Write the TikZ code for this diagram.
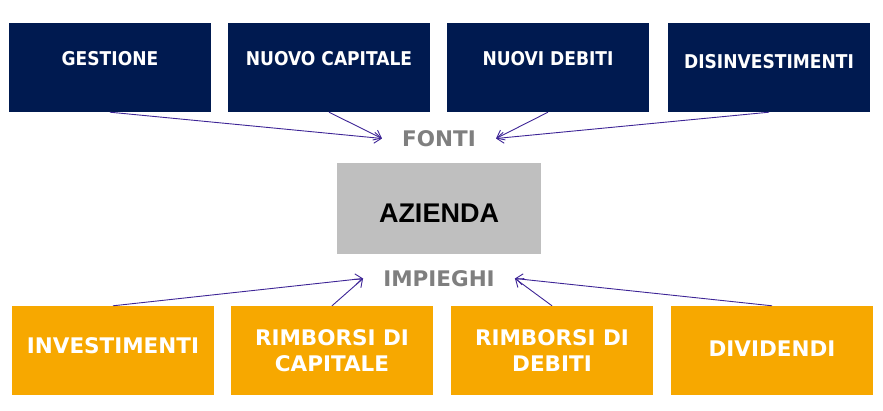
\documentclass[tikz,border=0pt]{standalone}
\usepackage{fontspec}
\setmainfont{Liberation Sans}
\newfontfamily\boxfont{DejaVu Sans Condensed Bold}
\newfontfamily\widefont{DejaVu Sans Bold}
\usetikzlibrary{arrows.meta}

\definecolor{navy}{HTML}{001A50}
\definecolor{gold}{HTML}{F7A800}
\definecolor{boxgray}{HTML}{BFBFBF}
\definecolor{labelgray}{HTML}{7F7F7F}
\definecolor{arrowblue}{HTML}{3E2596}

\begin{document}
\begin{tikzpicture}[x=1pt, y=-1pt,
  fonte/.style={fill=navy, text=white, minimum width=202pt, minimum height=89pt, inner sep=0pt,
    font=\boxfont\fontsize{19}{24}\selectfont},
  impiego/.style={fill=gold, text=white, minimum width=202pt, minimum height=89pt, inner sep=0pt,
    align=center, font=\widefont\fontsize{21.5}{26}\selectfont},
  titolo/.style={text=labelgray, inner xsep=20pt, inner ysep=2pt, font=\widefont\fontsize{21.5}{24}\selectfont},
  freccia/.style={arrowblue, line width=0.9pt, -{Straight Barb[length=7pt, width=11pt]}}]
\useasboundingbox (0,0) rectangle (883,411);

% fonti
\node[fonte, text height=14pt, text depth=17pt] (gestione) at (110,67.5) {GESTIONE};
\node[fonte, text height=14pt, text depth=17pt] (capitale) at (329,67.5) {NUOVO CAPITALE};
\node[fonte, text height=14pt, text depth=17pt] (debiti) at (548,67.5) {NUOVI DEBITI};
\node[fonte, text height=14pt, text depth=11pt] (disinv) at (769,67.5) {DISINVESTIMENTI};

% azienda
\node[fill=boxgray, minimum width=204pt, minimum height=91pt, inner sep=0pt, text height=29pt, text depth=0pt,
  font=\fontsize{27}{32}\selectfont\bfseries] (azienda) at (439,208.5) {AZIENDA};

\node[titolo] (fonti) at (439,138.5) {FONTI};
\node[titolo] (impieghi) at (439,278.5) {IMPIEGHI};

% impieghi
\node[impiego, text height=16pt, text depth=9pt] (investimenti) at (113,350.5) {INVESTIMENTI};
\node[impiego] (rimbcap) at (332,350.5) {RIMBORSI DI\\CAPITALE};
\node[impiego] (rimbdeb) at (552,350.5) {RIMBORSI DI\\DEBITI};
\node[impiego, text height=16pt, text depth=5pt] (dividendi) at (772,350.5) {DIVIDENDI};

% frecce
\draw[freccia] (gestione.south) -- (fonti.west);
\draw[freccia] (capitale.south) -- (fonti.west);
\draw[freccia] (debiti.south) -- (fonti.east);
\draw[freccia] (disinv.south) -- (fonti.east);

\draw[freccia] (investimenti.north) -- (impieghi.west);
\draw[freccia] (rimbcap.north) -- (impieghi.west);
\draw[freccia] (rimbdeb.north) -- (impieghi.east);
\draw[freccia] (dividendi.north) -- (impieghi.east);

\end{tikzpicture}
\end{document}
